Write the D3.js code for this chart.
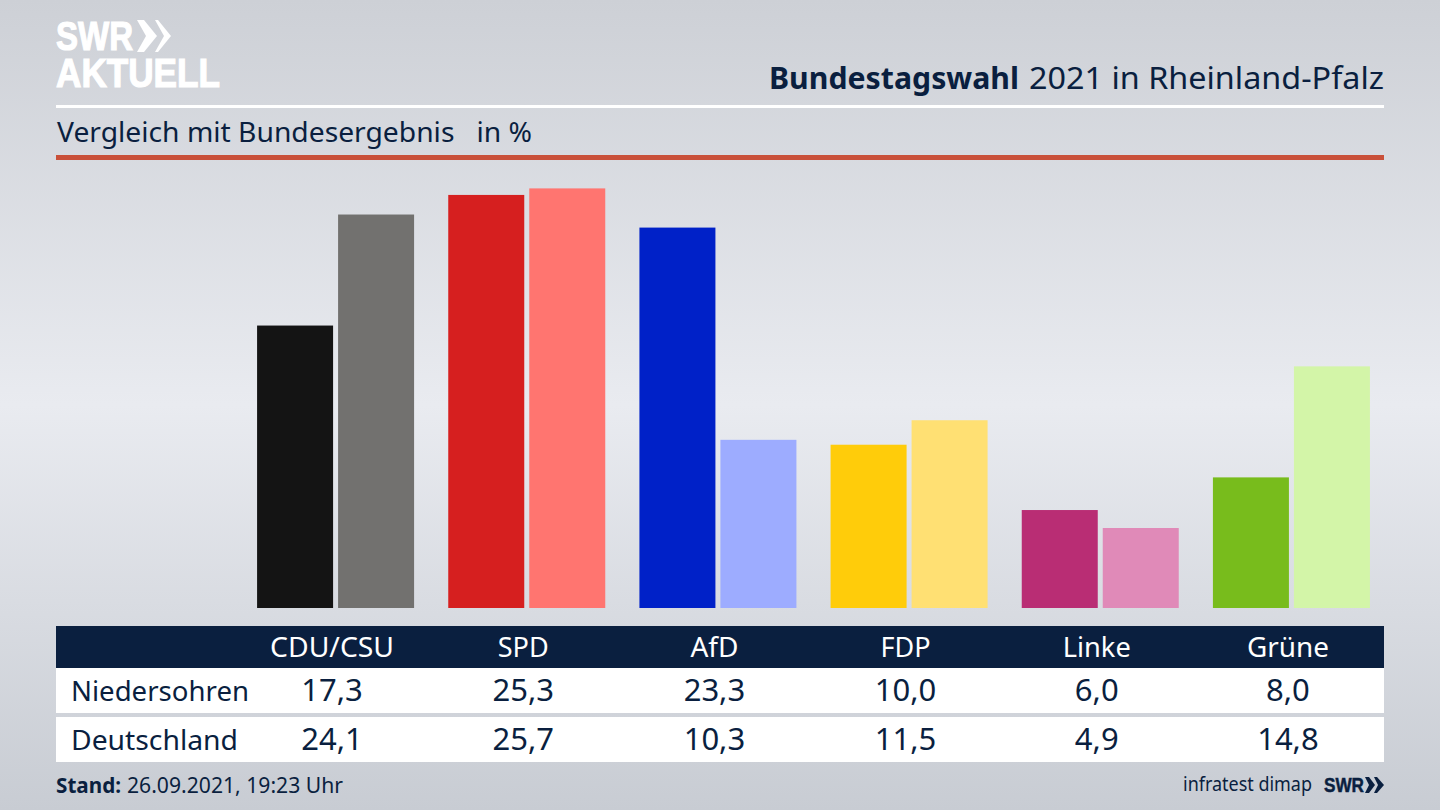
<!DOCTYPE html>
<html><head><meta charset="utf-8">
<script src="https://cdn.jsdelivr.net/npm/d3@7/dist/d3.min.js"></script>
<style>html,body{margin:0;padding:0;background:#d5d8df}svg{display:block}</style>
</head><body><svg id="c" width="1440" height="810"></svg>
<script>
const parties=["CDU/CSU","SPD","AfD","FDP","Linke","Grüne"];
const rowNames=["Niedersohren","Deutschland"];
const local=[17.3,25.3,23.3,10.0,6.0,8.0];
const national=[24.1,25.7,10.3,11.5,4.9,14.8];
const localColors=["#141414","#d61f1f","#0021c8","#ffcc0a","#b92d74","#78bc1c"];
const nationalColors=["#72716f","#ff7570","#9dacff","#ffe073","#e08ab8","#d3f5a8"];
const headWidths=[124,51,48,50,68,82];
const fmt=v=>v.toFixed(1).replace(".",",");
const F="'Noto Sans',sans-serif", L="'Liberation Sans',sans-serif";
const svg=d3.select("#c").style("font-family",F);
const defs=svg.append("defs");
const g=defs.append("linearGradient").attr("id","bg").attr("x1",0).attr("x2",0).attr("y1",0).attr("y2",1);
[[0,"#cdd0d6"],[0.5,"#e9ebf0"],[1,"#c8ccd3"]].forEach(s=>g.append("stop").attr("offset",s[0]).attr("stop-color",s[1]));
svg.append("rect").attr("width",1440).attr("height",810).attr("fill","url(#bg)");
const navy="#0a1f3f";
const fit=(sel,w)=>sel.attr("textLength",w).attr("lengthAdjust","spacingAndGlyphs");
// logo
fit(svg.append("text").attr("x",56).attr("y",50).style("font-family",L).attr("font-weight",700).attr("font-size",41).attr("fill","#fff").attr("stroke","#fff").attr("stroke-width",1.2).text("SWR"),77);
svg.append("path").attr("d","M137 20h7l13 16-13 16h-7l9-16zM155 20h3l13 16-13 16h-3l9-16z").attr("fill","#fff");
fit(svg.append("text").attr("x",56).attr("y",87).style("font-family",L).attr("font-weight",700).attr("font-size",41).attr("fill","#fff").attr("stroke","#fff").attr("stroke-width",1.2).text("AKTUELL"),164);
// title
fit(svg.append("text").attr("x",769).attr("y",89).attr("font-size",30).attr("font-weight",700).attr("fill",navy).text("Bundestagswahl"),250);
fit(svg.append("text").attr("x",1029).attr("y",89).attr("font-size",30).attr("fill",navy).text("2021 in Rheinland-Pfalz"),355);
svg.append("rect").attr("x",56).attr("y",105).attr("width",1328).attr("height",3).attr("fill","#fff");
fit(svg.append("text").attr("x",57).attr("y",142).attr("font-size",28).attr("fill",navy).style("white-space","pre").text("Vergleich mit Bundesergebnis   in %"),475);
svg.append("rect").attr("x",56).attr("y",155).attr("width",1328).attr("height",5).attr("fill","#c9503a");
// scales
const x=d3.scaleBand().domain(parties).range([240,1387]);
const labelX=d3.scaleBand().domain(parties).range([236.5,1383.5]);
const y=d3.scaleLinear().domain([0,25.7]).range([608,188.4]);
const barW=76, gap=5;
const cx=d=>x(d)+x.bandwidth()/2;
const lx=d=>labelX(d)+labelX.bandwidth()/2;
svg.append("g").selectAll("rect").data(parties).join("rect").attr("x",d=>cx(d)-gap/2-barW).attr("y",(d,i)=>y(local[i])).attr("width",barW).attr("height",(d,i)=>y(0)-y(local[i])).attr("fill",(d,i)=>localColors[i]);
svg.append("g").selectAll("rect").data(parties).join("rect").attr("x",d=>cx(d)+gap/2).attr("y",(d,i)=>y(national[i])).attr("width",barW).attr("height",(d,i)=>y(0)-y(national[i])).attr("fill",(d,i)=>nationalColors[i]);
// table
svg.append("rect").attr("x",56).attr("y",626).attr("width",1328).attr("height",42).attr("fill",navy);
svg.append("rect").attr("x",56).attr("y",668).attr("width",1328).attr("height",45).attr("fill","#fff");
svg.append("rect").attr("x",56).attr("y",717).attr("width",1328).attr("height",45).attr("fill","#fff");
svg.append("g").selectAll("text").data(parties).join("text").attr("x",lx).attr("y",657).attr("text-anchor","middle").attr("font-size",28).attr("fill","#fff").attr("textLength",(d,i)=>headWidths[i]).attr("lengthAdjust","spacingAndGlyphs").text(d=>d);
const rowW=[178,167];
[[local,701],[national,750]].forEach((r,k)=>{
  fit(svg.append("text").attr("x",71).attr("y",r[1]).attr("font-size",28).attr("fill",navy).text(rowNames[k]),rowW[k]);
  svg.append("g").selectAll("text").data(parties).join("text").attr("x",lx).attr("y",r[1]).attr("text-anchor","middle").attr("font-size",31).attr("fill",navy).text((d,i)=>fmt(r[0][i]));
});
// footer
fit(svg.append("text").attr("x",56).attr("y",793).attr("font-size",21).attr("font-weight",700).attr("fill",navy).text("Stand:"),65);
fit(svg.append("text").attr("x",127).attr("y",793).attr("font-size",21).attr("fill",navy).text("26.09.2021, 19:23 Uhr"),216);
fit(svg.append("text").attr("x",1183).attr("y",791).attr("font-size",19).attr("fill",navy).text("infratest dimap"),129);
fit(svg.append("text").attr("x",1324).attr("y",792).style("font-family",L).attr("font-weight",700).attr("font-size",21).attr("fill",navy).attr("stroke",navy).attr("stroke-width",0.5).text("SWR"),40);
svg.append("path").attr("d","M1365 777h4l6 8-6 8h-4l4-8zM1374 777h3l7 8-7 8h-3l4-8z").attr("fill",navy);
</script></body></html>
